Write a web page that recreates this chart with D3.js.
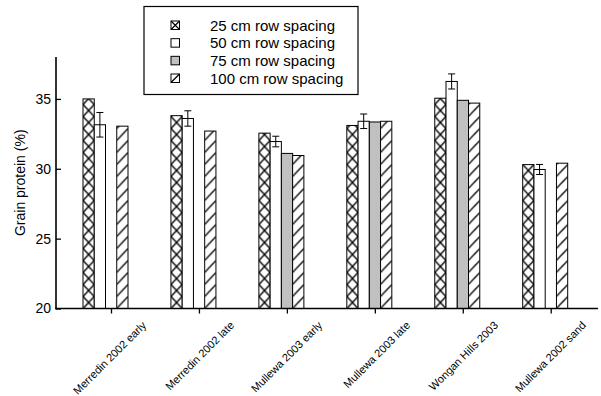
<!DOCTYPE html>
<html>
<head>
<meta charset="utf-8">
<script src="https://cdn.jsdelivr.net/npm/d3@7"></script>
<style>
  html, body { margin: 0; padding: 0; background: #fff; }
  svg { display: block; font-family: "Liberation Sans", Arial, sans-serif; }
</style>
</head>
<body>
<svg id="chart" width="601" height="396"></svg>
<script>
// Grain protein by site and row spacing
const categories = [
  "Merredin 2002 early", "Merredin 2002 late", "Mullewa 2003 early",
  "Mullewa 2003 late", "Wongan Hills 2003", "Mullewa 2002 sand"
];
const seriesNames = ["25 cm row spacing", "50 cm row spacing", "75 cm row spacing", "100 cm row spacing"];
const protein25  = [35.0, 33.8, 32.55, 33.1, 35.05, 30.3];
const protein50  = [33.15, 33.6, 31.95, 33.4, 36.25, 29.95];
const protein75  = [null, null, 31.1, 33.35, 34.9, null];
const protein100 = [33.05, 32.7, 30.95, 33.4, 34.7, 30.4];
const err50      = [0.88, 0.55, 0.38, 0.52, 0.54, 0.36];
const yTicks = [20, 25, 30, 35];
const yDomain = [20, 38];

const series = [protein25, protein50, protein75, protein100];
const fills = ["cross", "white", "gray", "diag"];

const svg = d3.select("#chart");
const axisLeftX = 56, axisRightX = 598;

const y = d3.scaleLinear().domain(yDomain).range([308.5, 57]);
const x = d3.scalePoint().domain(categories).range([111, 550.7]);
const inner = d3.scaleBand().domain(seriesNames).range([-28, 17]);
const bw = inner.bandwidth();

const defs = svg.append("defs");

// flatten bars
const bars = [];
categories.forEach((c, ci) => {
  series.forEach((s, si) => {
    const v = s[ci];
    if (v == null) return;
    bars.push({ cat: c, ci, si, v, x0: x(c) + inner(seriesNames[si]) });
  });
});

// per-bar hatch patterns so that each bar starts its pattern at its own edge
bars.forEach((b, i) => {
  if (fills[b.si] !== "cross" && fills[b.si] !== "diag") return;
  const ph = 12;
  const p = defs.append("pattern")
    .attr("id", "pat" + i)
    .attr("patternUnits", "userSpaceOnUse")
    .attr("x", b.x0).attr("y", y(yDomain[0]))
    .attr("width", bw).attr("height", ph);
  p.append("rect").attr("width", bw).attr("height", ph).attr("fill", "#fff");
  if (fills[b.si] === "cross") {
    p.append("path").attr("d", `M0,0L${bw},${ph}M${bw},0L0,${ph}`)
      .attr("stroke", "#000").attr("stroke-width", 1.4).attr("fill", "none");
  } else {
    p.append("path").attr("d", `M0,${ph}L${bw},0`)
      .attr("stroke", "#000").attr("stroke-width", 1.3).attr("fill", "none");
  }
  b.pat = "url(#pat" + i + ")";
});

function fillOf(b) {
  if (b.pat) return b.pat;
  return fills[b.si] === "gray" ? "#c0c0c0" : "#fff";
}

svg.append("g").selectAll("rect").data(bars).join("rect")
  .attr("x", d => d.x0)
  .attr("y", d => y(d.v))
  .attr("width", bw)
  .attr("height", d => y(yDomain[0]) - y(d.v))
  .attr("fill", fillOf)
  .attr("stroke", "#000")
  .attr("stroke-width", 1);

// error bars on the 50 cm series
const eb = svg.append("g").attr("stroke", "#000").attr("stroke-width", 1).attr("fill", "none");
categories.forEach((c, ci) => {
  const v = protein50[ci], e = err50[ci];
  const cx = x(c) + inner(seriesNames[1]) + bw / 2;
  const capW = 3.5;
  eb.append("path").attr("d",
    `M${cx},${y(v + e)}V${y(v - e)}` +
    `M${cx - capW},${y(v + e)}H${cx + capW}` +
    `M${cx - capW},${y(v - e)}H${cx + capW}`);
});

// axes
const axes = svg.append("g").attr("stroke", "#000").attr("stroke-width", 1.6).attr("fill", "none");
axes.append("line").attr("x1", axisLeftX).attr("x2", axisLeftX)
  .attr("y1", y(yDomain[1])).attr("y2", y(yDomain[0]) + 0.8);
axes.append("line").attr("x1", axisLeftX - 0.8).attr("x2", axisRightX)
  .attr("y1", y(yDomain[0])).attr("y2", y(yDomain[0]));

// y ticks (inward) and labels
const yAxis = d3.axisLeft(y).tickValues(yTicks).tickSize(-5).tickPadding(5).tickFormat(d3.format("d"));
const gy = svg.append("g").attr("transform", `translate(${axisLeftX},0)`).call(yAxis);
gy.select(".domain").remove();
gy.selectAll(".tick line").attr("stroke", "#000").attr("stroke-width", 1.3);
gy.selectAll(".tick text").attr("font-size", 14).attr("fill", "#000")
  .attr("font-family", "Liberation Sans, Arial, sans-serif");

// x ticks (outward)
const xAxis = d3.axisBottom(x).tickSize(5).tickFormat("");
const gx = svg.append("g").attr("transform", `translate(0,${y(yDomain[0])})`).call(xAxis);
gx.select(".domain").remove();
gx.selectAll(".tick line").attr("stroke", "#000").attr("stroke-width", 1.3);

// rotated category labels
svg.append("g").selectAll("text").data(categories).join("text")
  .attr("transform", d => `translate(${x(d) + 36},${326}) rotate(-45)`)
  .attr("text-anchor", "end")
  .attr("font-size", 11)
  .attr("fill", "#000")
  .text(d => d);

// y axis title
svg.append("text")
  .attr("transform", `translate(25,${(y(yDomain[0]) + y(yDomain[1])) / 2}) rotate(-90)`)
  .attr("text-anchor", "middle")
  .attr("font-size", 14)
  .attr("fill", "#000")
  .text("Grain protein (%)");

// legend
const lg = svg.append("g");
lg.append("rect").attr("x", 144).attr("y", 6.5).attr("width", 214).attr("height", 88)
  .attr("fill", "#fff").attr("stroke", "#000").attr("stroke-width", 1.2);
const rowY = d3.scalePoint().domain(seriesNames).range([21, 74]);
seriesNames.forEach((name, si) => {
  const ty = rowY(name);
  const bx = 171, s = 8.5;
  const g = lg.append("g");
  g.append("rect").attr("x", bx).attr("y", ty).attr("width", s).attr("height", s)
    .attr("fill", fills[si] === "gray" ? "#c0c0c0" : "#fff")
    .attr("stroke", "#000").attr("stroke-width", 1);
  if (fills[si] === "cross") {
    g.append("path").attr("d", `M${bx},${ty}L${bx + s},${ty + s}M${bx + s},${ty}L${bx},${ty + s}`)
      .attr("stroke", "#000").attr("stroke-width", 1.2);
  } else if (fills[si] === "diag") {
    g.append("path").attr("d", `M${bx},${ty + s}L${bx + s},${ty}`)
      .attr("stroke", "#000").attr("stroke-width", 1.2);
  }
  g.append("text").attr("x", 210).attr("y", ty + 9.5)
    .attr("font-size", 15).attr("fill", "#000").text(name);
});
</script>
</body>
</html>
